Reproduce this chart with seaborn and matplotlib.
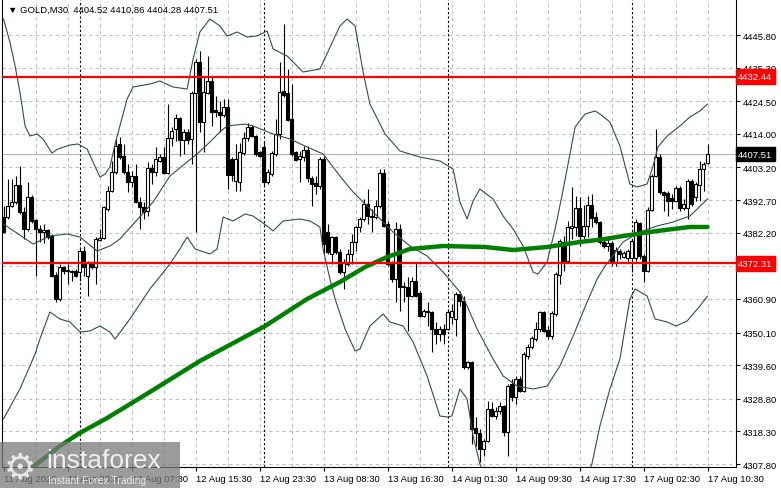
import numpy as np
import pandas as pd
import seaborn as sns
import matplotlib.pyplot as plt
import matplotlib.transforms as mtransforms
from matplotlib.patches import Rectangle

# GOLD M30 candles (bar 0 = 11 Aug, bar 176 = 17 Aug 10:30)
opens = [4387.26, 4387.26, 4390.80, 4392.09, 4397.55, 4388.87, 4383.40, 4393.69, 4386.30, 4383.40,
         4382.44, 4383.08, 4381.15, 4368.60, 4360.89, 4371.17, 4370.21, 4369.89, 4369.89, 4369.57,
         4376.33, 4368.28, 4372.46, 4371.17, 4379.86, 4380.50, 4389.83, 4395.62, 4401.74, 4410.74,
         4406.88, 4401.74, 4398.52, 4400.45, 4392.09, 4390.48, 4389.19, 4403.02, 4401.74, 4405.28,
         4406.56, 4401.41, 4412.67, 4415.57, 4419.10, 4412.03, 4414.61, 4412.35, 4427.15, 4437.12,
         4417.82, 4427.15, 4431.01, 4421.68, 4421.04, 4420.07, 4422.64, 4405.92, 4398.84, 4398.52,
         4407.85, 4412.67, 4416.21, 4413.32, 4408.17, 4409.77, 4398.52, 4401.09, 4407.52, 4413.96,
         4427.79, 4427.15, 4418.78, 4408.17, 4405.92, 4406.56, 4408.81, 4399.80, 4398.19, 4397.23,
         4405.92, 4382.44, 4375.36, 4380.82, 4376.01, 4369.57, 4372.14, 4375.36, 4379.22, 4384.05,
         4386.62, 4391.44, 4387.58, 4387.26, 4390.80, 4401.41, 4385.01, 4372.79, 4367.32, 4383.40,
         4365.07, 4364.74, 4361.85, 4366.68, 4362.82, 4355.42, 4357.03, 4356.71, 4351.24, 4349.63,
         4351.24, 4351.24, 4355.10, 4354.45, 4362.50, 4360.25, 4339.01, 4340.63, 4319.39, 4317.78,
         4312.64, 4315.21, 4325.50, 4323.25, 4324.86, 4326.47, 4318.10, 4333.54, 4329.36, 4335.15,
         4331.30, 4342.55, 4345.44, 4348.02, 4351.24, 4356.71, 4350.92, 4348.98, 4356.06, 4368.60,
         4379.22, 4373.11, 4383.72, 4384.05, 4390.16, 4381.15, 4384.37, 4391.12, 4387.26, 4385.66,
         4379.22, 4377.93, 4378.89, 4372.79, 4376.33, 4374.39, 4374.07, 4374.07, 4374.07, 4385.33,
         4374.71, 4369.89, 4389.51, 4400.45, 4406.56, 4395.30, 4394.98, 4393.37, 4392.41, 4396.59,
         4390.16, 4390.16, 4398.84, 4393.69, 4397.55, 4402.70, 4404.52]
highs = [4390.80, 4399.48, 4399.48, 4400.44, 4403.67, 4390.48, 4398.52, 4394.33, 4386.62, 4384.69,
         4385.01, 4383.40, 4381.79, 4369.57, 4372.14, 4371.50, 4372.14, 4370.21, 4370.53, 4377.61,
         4377.93, 4373.11, 4372.79, 4380.82, 4383.40, 4390.80, 4397.23, 4405.28, 4412.35, 4412.99,
         4410.74, 4404.31, 4402.06, 4404.31, 4393.69, 4392.09, 4404.96, 4404.31, 4409.77, 4407.52,
         4409.77, 4423.61, 4416.21, 4420.39, 4419.42, 4415.57, 4415.57, 4427.79, 4438.08, 4440.66,
         4432.62, 4439.05, 4432.62, 4426.18, 4424.57, 4425.22, 4425.22, 4406.56, 4410.74, 4411.06,
         4414.61, 4417.49, 4416.85, 4413.64, 4408.49, 4411.38, 4402.70, 4408.49, 4418.78, 4437.12,
         4449.34, 4434.86, 4430.04, 4408.49, 4408.49, 4410.10, 4410.10, 4400.45, 4400.45, 4406.56,
         4406.88, 4385.01, 4381.15, 4381.15, 4376.97, 4373.75, 4376.97, 4381.79, 4384.37, 4387.26,
         4393.05, 4396.27, 4389.83, 4392.73, 4402.70, 4402.70, 4385.98, 4373.11, 4385.66, 4385.01,
         4366.36, 4367.96, 4367.96, 4372.79, 4363.46, 4357.67, 4359.93, 4357.03, 4353.49, 4352.20,
         4352.84, 4357.67, 4359.28, 4363.14, 4363.46, 4361.85, 4340.95, 4340.95, 4322.93, 4319.07,
         4315.85, 4328.08, 4327.76, 4326.15, 4327.76, 4326.79, 4333.54, 4335.15, 4336.12, 4336.12,
         4343.84, 4346.41, 4348.98, 4353.49, 4357.03, 4357.03, 4352.20, 4357.03, 4369.57, 4380.18,
         4381.15, 4385.98, 4396.91, 4394.01, 4393.69, 4391.12, 4394.01, 4394.66, 4388.87, 4385.98,
         4379.86, 4380.82, 4379.54, 4377.61, 4376.97, 4376.33, 4376.97, 4380.18, 4386.62, 4385.66,
         4375.36, 4390.48, 4401.09, 4415.57, 4407.52, 4395.62, 4395.62, 4394.66, 4397.23, 4397.23,
         4393.05, 4399.48, 4399.48, 4398.52, 4405.28, 4404.96, 4410.86]
lows = [4382.10, 4386.62, 4390.48, 4391.44, 4388.22, 4380.18, 4382.76, 4385.33, 4368.28, 4379.22,
        4378.89, 4380.18, 4367.96, 4359.93, 4360.25, 4368.92, 4365.71, 4366.68, 4367.96, 4366.68,
        4368.28, 4361.85, 4370.53, 4365.71, 4379.54, 4380.18, 4389.19, 4395.30, 4401.09, 4405.92,
        4401.09, 4395.30, 4396.91, 4391.76, 4383.40, 4386.62, 4387.58, 4397.87, 4400.45, 4404.96,
        4401.09, 4401.09, 4410.10, 4411.71, 4406.88, 4407.52, 4410.74, 4404.31, 4382.44, 4414.61,
        4408.17, 4426.83, 4416.53, 4419.42, 4414.61, 4419.42, 4396.27, 4398.84, 4395.62, 4395.62,
        4407.20, 4411.71, 4412.99, 4406.88, 4406.56, 4397.23, 4397.87, 4400.45, 4406.88, 4412.35,
        4425.86, 4418.14, 4406.88, 4405.28, 4398.52, 4405.28, 4398.52, 4390.80, 4394.66, 4396.27,
        4375.36, 4375.36, 4372.14, 4375.36, 4368.92, 4364.10, 4371.50, 4372.14, 4376.33, 4382.44,
        4385.98, 4385.01, 4382.44, 4386.62, 4390.16, 4384.05, 4371.50, 4366.36, 4359.93, 4357.03,
        4359.93, 4350.60, 4361.53, 4361.53, 4355.10, 4355.10, 4352.20, 4343.84, 4346.41, 4347.38,
        4346.41, 4350.92, 4352.84, 4348.98, 4358.64, 4338.37, 4338.37, 4314.24, 4313.60, 4308.46,
        4310.39, 4314.90, 4322.93, 4322.29, 4323.90, 4316.82, 4310.39, 4328.08, 4327.11, 4330.98,
        4330.98, 4341.59, 4344.80, 4347.38, 4350.28, 4350.28, 4348.02, 4348.02, 4355.42, 4365.71,
        4369.89, 4372.79, 4380.18, 4381.15, 4377.93, 4380.18, 4380.82, 4384.05, 4385.01, 4378.57,
        4377.29, 4376.33, 4371.50, 4371.50, 4373.75, 4374.07, 4373.11, 4369.57, 4373.11, 4373.75,
        4366.36, 4369.57, 4389.19, 4400.12, 4394.66, 4389.19, 4387.58, 4389.83, 4392.09, 4389.19,
        4389.51, 4386.62, 4390.80, 4392.41, 4392.41, 4395.62, 4404.28]
closes = [4382.44, 4390.80, 4392.09, 4397.55, 4388.87, 4383.40, 4393.69, 4385.98, 4383.40, 4382.44,
          4383.08, 4380.82, 4368.28, 4360.89, 4371.17, 4369.89, 4369.89, 4369.57, 4368.28, 4376.33,
          4371.17, 4372.79, 4371.17, 4380.18, 4380.50, 4390.48, 4395.62, 4401.74, 4410.10, 4406.56,
          4401.74, 4398.52, 4400.45, 4392.09, 4390.48, 4388.87, 4403.02, 4401.74, 4405.92, 4406.56,
          4401.41, 4412.67, 4414.93, 4419.10, 4412.03, 4414.61, 4412.03, 4427.15, 4437.12, 4417.82,
          4427.47, 4431.01, 4421.04, 4421.04, 4420.07, 4422.64, 4400.77, 4400.77, 4405.92, 4408.17,
          4412.67, 4416.21, 4413.32, 4407.52, 4406.88, 4398.52, 4401.74, 4407.85, 4413.96, 4427.47,
          4426.50, 4418.46, 4407.52, 4405.60, 4406.88, 4408.81, 4399.80, 4397.87, 4397.23, 4405.92,
          4378.57, 4376.01, 4380.82, 4376.01, 4369.57, 4372.79, 4375.36, 4379.22, 4384.05, 4386.62,
          4391.44, 4387.58, 4387.26, 4390.80, 4401.41, 4384.37, 4372.14, 4367.32, 4383.40, 4364.74,
          4364.74, 4361.85, 4366.68, 4361.85, 4355.42, 4357.03, 4356.71, 4351.24, 4349.63, 4351.24,
          4349.63, 4356.71, 4357.03, 4362.50, 4360.25, 4339.01, 4340.63, 4319.07, 4317.78, 4312.64,
          4315.21, 4325.50, 4323.25, 4324.86, 4326.47, 4318.10, 4332.90, 4329.36, 4335.15, 4331.30,
          4343.19, 4345.44, 4348.34, 4351.24, 4356.71, 4350.60, 4348.98, 4356.39, 4368.92, 4379.54,
          4373.11, 4384.05, 4384.37, 4390.16, 4381.15, 4384.37, 4391.12, 4386.94, 4385.66, 4379.22,
          4377.93, 4378.89, 4372.79, 4376.65, 4375.36, 4375.68, 4376.33, 4379.54, 4385.66, 4374.71,
          4369.89, 4389.51, 4400.45, 4406.56, 4395.30, 4394.33, 4392.41, 4392.41, 4396.59, 4390.16,
          4391.44, 4398.84, 4391.44, 4397.87, 4402.70, 4404.31, 4407.51]

# Bollinger bands (20) and the moving average, read at points along the chart
upper_bar = [0, 1.6, 2.9, 4.1, 5.4, 6.6, 8.4, 9.9, 12.1, 13.6, 16.6, 18.6, 20.9, 24.1, 25.4, 26.6,
             27.9, 30.9, 32.4, 36.6, 39.1, 42.4, 45.9, 47.4, 49.1, 51.6, 54.1, 55.9, 58.4, 60.9,
             63.4, 65.9, 67.4, 70.9, 74.9, 79.1, 84.1, 85.9, 87.9, 89.9, 91.6, 95.4, 99.1, 104.1,
             109.1, 112.4, 114.1, 115.9, 117.4, 119.1, 122.4, 124.9, 127.4, 129.9, 132.4, 133.6,
             135.9, 137.9, 139.6, 140.9, 142.9, 145.4, 147.9, 149.1, 151.6, 154.1, 156.6, 158.4,
             160.9, 162.4, 163.6, 165.9, 169.1, 171.6, 174.1, 176]
upper_val = [4450.95, 4443.55, 4435.83, 4427.47, 4416.53, 4413.32, 4413.96, 4412.35, 4407.85, 4409.13,
             4410.42, 4410.74, 4409.13, 4400.12, 4401.09, 4403.34, 4410.74, 4425.22, 4429.07, 4430.04,
             4431.01, 4429.07, 4428.43, 4438.08, 4446.77, 4450.95, 4448.70, 4445.48, 4446.77, 4445.16,
             4445.48, 4447.09, 4441.30, 4439.05, 4433.90, 4434.86, 4448.70, 4450.95, 4448.70, 4433.90,
             4423.61, 4413.96, 4408.49, 4406.56, 4405.28, 4402.70, 4392.09, 4386.62, 4392.41, 4396.27,
             4393.05, 4387.58, 4383.40, 4377.93, 4369.57, 4368.92, 4372.79, 4383.40, 4394.01, 4402.70,
             4416.21, 4420.39, 4421.36, 4420.39, 4417.82, 4410.10, 4397.87, 4396.91, 4397.87, 4403.66,
             4409.77, 4413.32, 4416.53, 4419.42, 4421.36, 4423.61]
mid_bar = [0, 7.4, 11.6, 15.9, 19.1, 23.4, 26.6, 29.1, 37.4, 41.6, 45.9, 48.4, 51.6, 54.1, 55.9,
           60.4, 62.4, 67.4, 71.6, 75.9, 79.9, 84.1, 87.4, 90.4, 97.4, 101.6, 105.9, 109.9, 114.1,
           115.9, 118.4, 120.4, 122.4, 124.9, 128.4, 132.4, 135.9, 139.1, 142.4, 145.9, 148.4,
           150.4, 154.9, 159.1, 163.4, 167.4, 171.6, 176]
mid_val = [4384.99, 4378.57, 4381.15, 4381.79, 4380.82, 4376.33, 4377.93, 4380.18, 4392.09, 4400.45,
           4404.96, 4407.52, 4411.38, 4414.61, 4416.53, 4417.17, 4416.53, 4413.96, 4412.35, 4409.77,
           4407.52, 4400.45, 4395.30, 4391.44, 4382.44, 4377.93, 4374.71, 4369.57, 4363.14, 4358.64,
           4351.24, 4346.41, 4341.59, 4336.12, 4332.90, 4331.94, 4332.90, 4339.33, 4348.98, 4359.93,
           4367.32, 4371.50, 4379.22, 4382.44, 4384.37, 4385.66, 4387.58, 4393.05]
lower_bar = [0, 4.1, 7.9, 9.1, 11.6, 14.1, 16.6, 19.1, 21.6, 24.1, 26.6, 27.9, 31.6, 36.6, 41.6,
             44.1, 45.9, 47.9, 51.6, 53.4, 54.9, 57.4, 60.4, 62.4, 65.9, 67.4, 69.9, 74.1, 76.6,
             79.1, 79.9, 81.6, 82.9, 85.4, 87.9, 89.1, 91.6, 94.9, 96.6, 99.9, 102.4, 105.9, 109.1,
             110.9, 112.1, 114.1, 115.9, 117.4, 119.1, 124.1, 134.1, 142.9, 147.1, 149.1, 151.6,
             154.1, 156.6, 157.9, 160.9, 162.9, 165.9, 168.1, 170.9, 174.1, 176]
lower_val = [4322.29, 4331.94, 4343.20, 4348.02, 4356.71, 4354.45, 4353.49, 4350.28, 4350.60, 4352.20,
             4350.28, 4348.02, 4354.45, 4364.10, 4372.14, 4376.97, 4380.82, 4376.97, 4375.36, 4376.97,
             4387.26, 4385.98, 4388.23, 4387.58, 4384.37, 4382.76, 4385.98, 4386.62, 4385.98, 4384.05,
             4376.97, 4367.32, 4360.89, 4351.24, 4344.16, 4344.80, 4352.20, 4356.06, 4353.49, 4352.20,
             4347.05, 4336.12, 4323.25, 4322.93, 4323.25, 4331.94, 4328.72, 4316.82, 4307.81, 4293.00,
             4286.50, 4294.70, 4307.81, 4320.04, 4331.94, 4341.59, 4360.89, 4364.10, 4361.85, 4354.45,
             4353.49, 4352.20, 4353.81, 4358.64, 4361.85]
ma_bar = [0, 7.4, 14.1, 19.1, 25.9, 36.6, 49.1, 65.4, 75.9, 84.1, 90.4, 95.9, 101.6, 109.9, 120.4,
          127.4, 135.9, 144.1, 150.4, 154.9, 163.4, 171.6, 176]
ma_val = [4297.50, 4306.85, 4313.60, 4317.80, 4322.60, 4330.98, 4340.95, 4352.20, 4360.89, 4366.36,
          4371.17, 4374.39, 4376.97, 4377.93, 4377.61, 4376.65, 4377.61, 4379.22, 4380.18, 4381.15,
          4382.76, 4384.05, 4384.05]

price_ticks = [4445.80, 4435.30, 4424.50, 4414.00, 4403.20, 4392.70, 4382.20, 4371.40,
               4360.90, 4350.10, 4339.60, 4328.80, 4318.30, 4307.80]
time_bars = [0, 16, 32, 48, 64, 80, 96, 112, 128, 144, 160, 176]
time_labels = ['11 Aug 2026', '11 Aug 23:30', '12 Aug 07:30', '12 Aug 15:30', '12 Aug 23:30',
               '13 Aug 08:30', '13 Aug 16:30', '14 Aug 01:30', '14 Aug 09:30', '14 Aug 17:30',
               '17 Aug 02:30', '17 Aug 10:30']
day_starts = [19, 65, 111, 157]
levels = [4432.44, 4372.31]
bid = 4407.51
title = '\u25BC GOLD,M30  4404.52 4410.86 4404.28 4407.51'

sns.set_style('white')
plt.rcParams['font.family'] = ['Liberation Sans', 'DejaVu Sans']

fig = plt.figure(figsize=(7.81, 4.89), dpi=100)
ax = fig.add_axes([2 / 781, 21 / 489, 734 / 781, 467 / 489])
ax.set_xlim(-0.375, 183.125)
ax.set_ylim(4306.85, 4457.06)

# grid
for p in price_ticks:
    ax.axhline(p, color='#c0c0c0', lw=0.8, ls=(0, (3, 3)), zorder=1)
for b in range(8, 184, 8):
    ax.axvline(b, color='#c0c0c0', lw=0.8, ls=(0, (3, 3)), zorder=1)
for b in day_starts:
    ax.axvline(b, color='black', lw=0.8, ls=(0, (2, 2)), zorder=1.5)

# candles
bars = np.arange(len(closes))
o = np.array(opens)
c = np.array(closes)
up = c >= o
ax.vlines(bars, lows, highs, color='black', lw=0.8, zorder=3)
ax.bar(bars[up], (c - o)[up], bottom=o[up], width=0.6, color='white',
       edgecolor='black', lw=0.8, zorder=4)
ax.bar(bars[~up], (o - c)[~up], bottom=c[~up], width=0.6, color='black',
       edgecolor='black', lw=0.8, zorder=4)

# indicators
band_color = '#2f4f4f'
for xs, ys in [(upper_bar, upper_val), (mid_bar, mid_val), (lower_bar, lower_val)]:
    df = pd.DataFrame({'bar': xs, 'price': ys})
    sns.lineplot(data=df, x='bar', y='price', ax=ax, color=band_color, lw=0.8,
                 estimator=None, zorder=5)
ma_df = pd.DataFrame({'bar': ma_bar, 'price': ma_val})
sns.lineplot(data=ma_df, x='bar', y='price', ax=ax, color='#008000', lw=3.2,
             estimator=None, zorder=6)

# horizontal levels and bid line
ax.axhline(bid, color='#b4b4b4', lw=0.8, zorder=2)
for lv in levels:
    ax.axhline(lv, color='#ff0000', lw=1.6, zorder=7)

# axes look
ax.set_xlabel('')
ax.set_ylabel('')
for s in ['left', 'right', 'bottom']:
    ax.spines[s].set_color('black')
    ax.spines[s].set_linewidth(0.8)
ax.spines['top'].set_visible(False)
ax.yaxis.tick_right()
ax.set_yticks(price_ticks)
ax.set_yticklabels(['%.2f' % p for p in price_ticks])
ax.set_xticks(time_bars)
ax.set_xticklabels(time_labels, ha='left')
ax.tick_params(axis='y', which='both', right=True, left=False, length=3, width=0.8,
               pad=2, labelsize=6.8, colors='black')
ax.tick_params(axis='x', which='both', bottom=True, length=3, width=0.8,
               pad=2, labelsize=6.8, colors='black')

# price tags on the right scale
tr = mtransforms.blended_transform_factory(ax.transAxes, ax.transData)
for lv in levels:
    ax.text(1.003, lv, '%.2f' % lv, transform=tr, ha='left', va='center', fontsize=6.8,
            color='white', zorder=10,
            bbox=dict(boxstyle='square,pad=0.28', fc='#ff0000', ec='#ff0000'))
ax.text(1.003, bid, '%.2f' % bid, transform=tr, ha='left', va='center', fontsize=6.8,
        color='white', zorder=10,
        bbox=dict(boxstyle='square,pad=0.28', fc='black', ec='black'))

fig.text(8 / 781, 1 - 10 / 489, title, ha='left', va='center', fontsize=6.8, color='black',
         family=['DejaVu Sans'] if False else ['Liberation Sans', 'DejaVu Sans'])

# watermark
fig.add_artist(Rectangle((0, 0), 180 / 781, 46 / 489, transform=fig.transFigure,
                         facecolor='#7a7a7a', edgecolor='none', alpha=0.75, zorder=20))
fig.text(4 / 781, 21 / 489, '\u2699', ha='left', va='center', fontsize=26, color='#e8e8e8',
         family=['DejaVu Sans'], zorder=21)
fig.text(46 / 781, 28 / 489, 'instaforex', ha='left', va='center', fontsize=19,
         color='#f0f0f0', zorder=21)
fig.text(48 / 781, 8 / 489, 'Instant Forex Trading', ha='left', va='center', fontsize=7.5,
         color='#e8e8e8', zorder=21)

fig.savefig('out.png', dpi=100)
